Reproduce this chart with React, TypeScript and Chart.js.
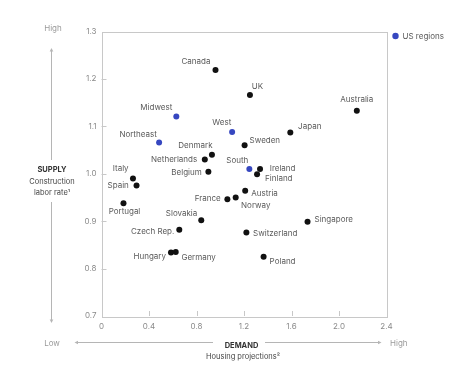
import React, { useEffect, useRef } from "react";
import { Chart, registerables } from "chart.js";

Chart.register(...registerables);

// ---- Data ----
const countries = ["Canada", "UK", "Australia", "Japan", "Sweden", "Denmark", "Netherlands", "Ireland", "Finland", "Belgium", "Italy", "Spain", "Portugal", "Austria", "France", "Norway", "Slovakia", "Czech Rep.", "Singapore", "Switzerland", "Hungary", "Germany", "Poland"];
const countryDemand = [0.96, 1.25, 2.15, 1.59, 1.205, 0.93, 0.87, 1.335, 1.31, 0.9, 0.265, 0.295, 0.185, 1.21, 1.06, 1.13, 0.84, 0.655, 1.735, 1.22, 0.585, 0.625, 1.365];
const countrySupply = [1.219, 1.166, 1.133, 1.087, 1.06, 1.04, 1.03, 1.01, 0.999, 1.004, 0.99, 0.975, 0.938, 0.964, 0.946, 0.95, 0.902, 0.882, 0.899, 0.876, 0.834, 0.835, 0.825];

const regions = ["Midwest", "West", "Northeast", "South"];
const regionDemand = [0.63, 1.1, 0.485, 1.245];
const regionSupply = [1.121, 1.088, 1.066, 1.01];

const xTicks = [0, 0.4, 0.8, 1.2, 1.6, 2.0, 2.4];
const yTicks = [0.7, 0.8, 0.9, 1.0, 1.1, 1.2, 1.3];

const legendLabel = "US regions";

// ---- Label placement (style) ----
type Place = [number, number, CanvasTextAlign];
const countryLabelPlace: Place[] = [
  [-19.6, -8.3, "center"], // Canada
  [7.4, -8.6, "center"], // UK
  [0, -11, "center"], // Australia
  [7.8, -6, "left"], // Japan
  [5, -4.7, "left"], // Sweden
  [0.6, -8.7, "right"], // Denmark
  [-7.6, 0, "right"], // Netherlands
  [9.7, 0, "left"], // Ireland
  [8, 4.4, "left"], // Finland
  [-6.6, 1, "right"], // Belgium
  [-12.3, -9.4, "center"], // Italy
  [-7.7, 0, "right"], // Spain
  [1, 8.7, "center"], // Portugal
  [6, 3, "left"], // Austria
  [-6.6, -0.7, "right"], // France
  [5.4, 7.7, "left"], // Norway
  [-19.7, -6.7, "center"], // Slovakia
  [-5, 1.7, "right"], // Czech Rep.
  [7, -2, "left"], // Singapore
  [6.7, 0.7, "left"], // Switzerland
  [-5, 4.3, "right"], // Hungary
  [5.7, 5.3, "left"], // Germany
  [6, 5, "left"], // Poland
];
const regionLabelPlace: Place[] = [
  [-20, -9, "center"], // Midwest
  [-10.3, -9, "center"], // West
  [-21, -8, "center"], // Northeast
  [-12, -8, "center"], // South
];

const FONT = "Inter, 'Open Sans', 'DejaVu Sans', sans-serif";
const BLUE = "#3647c0";
const BLACK = "#111111";
const TEXT = "#5a5a5a";
const FRAME = "#c8c8c8";

const decorPlugin = {
  id: "decor",
  afterDatasetsDraw(chart: any) {
    const ctx = chart.ctx as CanvasRenderingContext2D;
    const ca = chart.chartArea;
    const xs = chart.scales.x;
    const ys = chart.scales.y;
    ctx.save();
    // frame
    ctx.strokeStyle = FRAME;
    ctx.lineWidth = 1;
    ctx.strokeRect(Math.round(ca.left) + 0.5, Math.round(ca.top) + 0.5, Math.round(ca.right - ca.left), Math.round(ca.bottom - ca.top));
    // inward ticks
    ctx.beginPath();
    xTicks.forEach((v, i) => {
      if (i === 0 || i === xTicks.length - 1) return;
      const px = Math.round(xs.getPixelForValue(v)) + 0.5;
      ctx.moveTo(px, ca.bottom);
      ctx.lineTo(px, ca.bottom - 5);
    });
    yTicks.forEach((v, i) => {
      if (i === 0 || i === yTicks.length - 1) return;
      const py = Math.round(ys.getPixelForValue(v)) + 0.5;
      ctx.moveTo(ca.left, py);
      ctx.lineTo(ca.left + 5, py);
    });
    ctx.stroke();

    // point labels
    ctx.font = `8px ${FONT}`;
    ctx.fillStyle = TEXT;
    ctx.textBaseline = "middle";
    const drawLabels = (dsIndex: number, names: string[], places: Place[]) => {
      const meta = chart.getDatasetMeta(dsIndex);
      meta.data.forEach((el: any, i: number) => {
        const p = places[i];
        ctx.textAlign = p[2];
        ctx.fillText(names[i], el.x + p[0], el.y + p[1]);
      });
    };
    drawLabels(0, countries, countryLabelPlace);
    drawLabels(1, regions, regionLabelPlace);

    // legend
    ctx.fillStyle = BLUE;
    ctx.beginPath();
    ctx.arc(395.5, 36, 3.2, 0, Math.PI * 2);
    ctx.fill();
    ctx.fillStyle = TEXT;
    ctx.textAlign = "left";
    ctx.fillText(legendLabel, 402.5, 36.5);

    // axis titles
    const AX = "#9a9a9a";
    ctx.strokeStyle = "#b5b5b5";
    ctx.fillStyle = "#b5b5b5";
    const ax = 51.5;
    ctx.beginPath();
    ctx.moveTo(ax, 50);
    ctx.lineTo(ax, 160);
    ctx.moveTo(ax, 202);
    ctx.lineTo(ax, 321);
    ctx.moveTo(76, 342.5);
    ctx.lineTo(213, 342.5);
    ctx.moveTo(265, 342.5);
    ctx.lineTo(380, 342.5);
    ctx.stroke();
    // arrowheads
    const tri = (x1: number, y1: number, x2: number, y2: number, x3: number, y3: number) => {
      ctx.beginPath();
      ctx.moveTo(x1, y1);
      ctx.lineTo(x2, y2);
      ctx.lineTo(x3, y3);
      ctx.closePath();
      ctx.fill();
    };
    tri(ax, 48, ax - 1.8, 51.5, ax + 1.8, 51.5);
    tri(ax, 323, ax - 1.8, 319.5, ax + 1.8, 319.5);
    tri(74.5, 342.5, 78, 340.7, 78, 344.3);
    tri(381.5, 342.5, 378, 340.7, 378, 344.3);

    ctx.fillStyle = AX;
    ctx.textAlign = "center";
    ctx.font = `8px ${FONT}`;
    ctx.fillText("High", 53, 29);
    ctx.fillText("Low", 52, 343.5);
    ctx.textAlign = "left";
    ctx.fillText("High", 390, 343.5);

    ctx.textAlign = "center";
    ctx.fillStyle = "#333333";
    ctx.font = `bold 7.5px ${FONT}`;
    ctx.fillText("SUPPLY", 52, 170);
    ctx.fillText("DEMAND", 241.5, 345.5);
    ctx.font = `7.5px ${FONT}`;
    ctx.fillStyle = "#444444";
    ctx.fillText("Construction", 52, 181.5);
    ctx.fillText("labor rate\u00B9", 52, 192.5);
    ctx.fillText("Housing projections\u00B2", 243, 356.5);
    ctx.restore();
  },
};

export default function App() {
  const ref = useRef<HTMLCanvasElement | null>(null);
  useEffect(() => {
    document.body.style.margin = "0";
    if (!ref.current) return;
    const chart = new Chart(ref.current, {
      type: "scatter",
      data: {
        datasets: [
          {
            label: "Countries",
            data: countries.map((_, i) => ({ x: countryDemand[i], y: countrySupply[i] })),
            backgroundColor: BLACK,
            borderColor: BLACK,
            pointRadius: 3,
            borderWidth: 0,
          },
          {
            label: legendLabel,
            data: regions.map((_, i) => ({ x: regionDemand[i], y: regionSupply[i] })),
            backgroundColor: BLUE,
            borderColor: BLUE,
            pointRadius: 3,
            borderWidth: 0,
          },
        ],
      },
      options: {
        animation: false,
        responsive: false,
        maintainAspectRatio: false,
        layout: { padding: { left: 71.5, right: 82.5, top: 31.5, bottom: 33 } },
        plugins: {
          legend: { display: false },
          tooltip: { enabled: false },
        },
        scales: {
          x: {
            type: "linear",
            min: 0,
            max: 2.4,
            afterBuildTicks: (s: any) => {
              s.ticks = xTicks.map((v) => ({ value: v }));
            },
            afterFit: (s: any) => {
              s.height = 20;
            },
            grid: { display: false, drawTicks: false },
            border: { display: false },
            ticks: {
              color: "#8a8a8a",
              font: { family: FONT, size: 8 },
              padding: 6,
              callback: (v: any) => (Number(v) === 0 ? "0" : Number(v).toFixed(1)),
            },
          },
          y: {
            type: "linear",
            min: 0.7,
            max: 1.3,
            afterBuildTicks: (s: any) => {
              s.ticks = yTicks.map((v) => ({ value: v }));
            },
            afterFit: (s: any) => {
              s.width = 30;
            },
            grid: { display: false, drawTicks: false },
            border: { display: false },
            ticks: {
              color: "#8a8a8a",
              font: { family: FONT, size: 8 },
              padding: 5,
              callback: (v: any) => Number(v).toFixed(1),
            },
          },
        },
      },
      plugins: [decorPlugin],
    });
    return () => chart.destroy();
  }, []);
  return (
    <div style={{ width: 469, height: 369, background: "#fff" }}>
      <canvas ref={ref} width={469} height={369} style={{ width: 469, height: 369, display: "block" }} />
    </div>
  );
}
